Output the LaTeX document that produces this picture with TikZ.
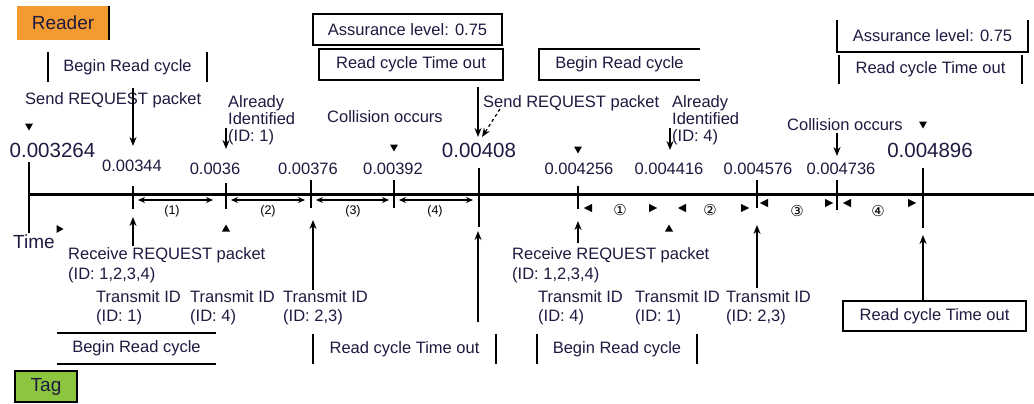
\documentclass[tikz,border=0pt]{standalone}
\usepackage{fontspec}
\setmainfont{Liberation Sans}
\newfontfamily\symfont{DejaVu Sans}
\usetikzlibrary{arrows.meta}
\definecolor{readerorange}{HTML}{F39A30}
\definecolor{taggreen}{HTML}{8CC63F}
\definecolor{txt}{HTML}{1E1A40}
\begin{document}
\begin{tikzpicture}[x=1pt,y=-1pt,
  lbl/.style={font=\fontsize{16.5}{17}\selectfont, inner sep=0pt, text=txt},
  two/.style={lbl, align=left, font=\fontsize{16.5}{19.5}\selectfont},
  three/.style={lbl, align=left, font=\fontsize{16.5}{17}\selectfont},
  big/.style={font=\fontsize{20.5}{22}\selectfont, inner sep=0pt, text=txt},
  head/.style={font=\fontsize{19}{20}\selectfont, inner sep=0pt, text=txt},
  small/.style={font=\fontsize{12.5}{13}\selectfont, inner sep=0pt},
  circ/.style={font=\symfont\fontsize{15}{16}\selectfont, inner sep=0pt},
  ln/.style={line width=1.6pt},
  axisline/.style={line width=3pt},
  arr/.style={line width=1.6pt, -{Stealth[length=9pt,width=7pt]}},
  dasharr/.style={line width=1.2pt, dashed, -{Stealth[length=9pt,width=7pt]}},
  iv/.style={line width=1.2pt, {Stealth[length=7pt,width=6pt]}-{Stealth[length=7pt,width=6pt]}},
  ivh/.style={line width=0.1pt, draw=white, {Triangle[length=8pt,width=8pt,color=black,fill=black]}-{Triangle[length=8pt,width=8pt,color=black,fill=black]}},
  tagbox/.style={lbl, minimum height=30pt},
]
\useasboundingbox[fill=white] (0,0) rectangle (1034,404);

% Reader / Tag
\node[head, fill=readerorange, minimum width=92pt, minimum height=34pt] (reader) at (63,23) {Reader};
\draw[ln] (reader.north east) -- (reader.south east);
\node[head, fill=taggreen, draw=black, line width=1.6pt, minimum width=62pt, minimum height=31pt] (tag) at (46,386.5) {Tag};

% axis and ticks
\coordinate (a0) at (29,194);
\coordinate (aend) at (1034,194);
\draw[axisline] (a0) -- (aend);
\coordinate (tA1) at (29,162);   \coordinate (tA2) at (29,233);
\coordinate (t11) at (133,186);  \coordinate (t12) at (133,209);
\coordinate (t21) at (226,183);  \coordinate (t22) at (226,209);
\coordinate (t31) at (311,180);  \coordinate (t32) at (311,208);
\coordinate (t41) at (394,180);  \coordinate (t42) at (394,208);
\coordinate (t51) at (479,168);  \coordinate (t52) at (479,227);
\coordinate (t61) at (578,186);  \coordinate (t62) at (578,209);
\coordinate (t71) at (757,180);  \coordinate (t72) at (757,208);
\coordinate (t81) at (837,180);  \coordinate (t82) at (837,210);
\coordinate (t91) at (923,168);  \coordinate (t92) at (923,228);
\foreach \t in {tA,t1,t2,t3,t4,t5,t6,t7,t8,t9}{\draw[ln] (\t1) -- (\t2);}

% tick labels
\node[big] (v0) at (52.5,150) {0.003264};
\node[lbl] (v1) at (132,166) {0.00344};
\node[lbl] (v2) at (215,169) {0.0036};
\node[lbl] (v3) at (308,169) {0.00376};
\node[lbl] (v4) at (393,169) {0.00392};
\node[big] (v5) at (479,150) {0.00408};
\node[lbl] (v6) at (579,169) {0.004256};
\node[lbl] (v7) at (669,169) {0.004416};
\node[lbl] (v8) at (758,169) {0.004576};
\node[lbl] (v9) at (841,169) {0.004736};
\node[big] (v10) at (930,150) {0.004896};

% small markers
\foreach \x/\y in {29/127, 394/148, 578/150, 923/125}{
  \fill (\x-4,\y-3.5) -- (\x+4,\y-3.5) -- (\x,\y+3.5) -- cycle;}
\foreach \x/\y in {226/228, 669/228}{
  \fill (\x-4,\y+3.5) -- (\x+4,\y+3.5) -- (\x,\y-3.5) -- cycle;}
\fill (56.5,225) -- (56.5,233) -- (63.5,229) -- cycle;

% intervals left
\coordinate (i1a) at (138,200); \coordinate (i1b) at (213,200);
\coordinate (i2a) at (231,200); \coordinate (i2b) at (305,200);
\coordinate (i3a) at (316,200); \coordinate (i3b) at (389,200);
\coordinate (i4a) at (399,200); \coordinate (i4b) at (473,200);
\draw[iv] (i1a) -- (i1b); \draw[iv] (i2a) -- (i2b);
\draw[iv] (i3a) -- (i3b); \draw[iv] (i4a) -- (i4b);
\node[small] (l1) at (172,211) {(1)};
\node[small] (l2) at (268,211) {(2)};
\node[small] (l3) at (353,211) {(3)};
\node[small] (l4) at (435,211) {(4)};
% intervals right
\coordinate (j1a) at (584,208); \coordinate (j1b) at (657,208);
\coordinate (j2a) at (678,208); \coordinate (j2b) at (749,208);
\coordinate (j3a) at (760,203); \coordinate (j3b) at (833,203);
\coordinate (j4a) at (843,203); \coordinate (j4b) at (916,203);
\draw[ivh] (j1a) -- (j1b); \draw[ivh] (j2a) -- (j2b);
\draw[ivh] (j3a) -- (j3b); \draw[ivh] (j4a) -- (j4b);
\node[circ] (m1) at (620,210) {①};
\node[circ] (m2) at (710,210) {②};
\node[circ] (m3) at (797,211) {③};
\node[circ] (m4) at (878,211) {④};

% upper texts
\node[lbl, anchor=west] (send1) at (25,100) {Send REQUEST packet};
\node[three, anchor=west] (ai1) at (228,120) {Already\\Identified\\(ID: 1)};
\node[lbl, anchor=west] (col1) at (327,117) {Collision occurs};
\node[lbl, anchor=west] (send2) at (483,103) {Send REQUEST packet};
\node[three, anchor=west] (ai2) at (672,120) {Already\\Identified\\(ID: 4)};
\node[lbl, anchor=west] (col2) at (787,125) {Collision occurs};
\node[head, anchor=west] (time) at (13,242) {Time};

% top brackets/boxes
\node[tagbox, minimum width=159pt] (brc1) at (127.5,67) {Begin Read cycle};
\draw[ln] (brc1.north west) -- (brc1.south west);
\draw[ln] (brc1.north east) -- (brc1.south east);
\node[lbl, draw=black, line width=1.6pt, minimum width=189pt, minimum height=31pt] (asr1) at (407.5,29.5) {Assurance level: 0.75};
\node[lbl, draw=black, line width=1.6pt, minimum width=184pt, minimum height=31pt] (rto1) at (411,64.5) {Read cycle Time out};
\node[tagbox, minimum width=161pt, minimum height=31pt] (brc2) at (619.5,64.5) {Begin Read cycle};
\draw[ln] (brc2.north east) -- (brc2.north west) -- (brc2.south west) -- (brc2.south east);
\node[tagbox, minimum width=191pt, minimum height=32pt] (asr2) at (932.5,36) {Assurance level: 0.75};
\draw[ln] (asr2.north west) -- (asr2.south west) -- (asr2.south east) -- (asr2.north east);
\node[tagbox, minimum width=183pt, minimum height=29pt] (rto2) at (930.5,69.5) {Read cycle Time out};
\draw[ln] (rto2.north west) -- (rto2.south west);
\draw[ln] (rto2.north east) -- (rto2.south east);

% top arrows
\coordinate (d1) at (133,88);  \coordinate (e1) at (133,146);
\coordinate (d2) at (226,128); \coordinate (e2) at (226,149);
\coordinate (d3) at (478,87);  \coordinate (e3) at (478,137);
\coordinate (d4) at (500,109); \coordinate (e4) at (482,137);
\coordinate (d5) at (670,128); \coordinate (e5) at (670,150);
\coordinate (d6) at (837,133); \coordinate (e6) at (837,156);
\draw[arr] (d1) -- (e1);
\draw[arr] (d2) -- (e2);
\draw[arr] (d3) -- (e3);
\draw[dasharr] (d4) -- (e4);
\draw[arr] (d5) -- (e5);
\draw[arr] (d6) -- (e6);

% lower texts
\node[two, anchor=west] (rcv1) at (68,265) {Receive REQUEST packet\\(ID: 1,2,3,4)};
\node[two, anchor=west] (rcv2) at (512,265) {Receive REQUEST packet\\(ID: 1,2,3,4)};
\node[two, anchor=west, font=\fontsize{16.5}{19}\selectfont] (tx1) at (96,307.5) {Transmit ID\\(ID: 1)};
\node[two, anchor=west, font=\fontsize{16.5}{19}\selectfont] (tx2) at (190,307.5) {Transmit ID\\(ID: 4)};
\node[two, anchor=west, font=\fontsize{16.5}{19}\selectfont] (tx3) at (283,307.5) {Transmit ID\\(ID: 2,3)};
\node[two, anchor=west, font=\fontsize{16.5}{19}\selectfont] (tx4) at (538,307.5) {Transmit ID\\(ID: 4)};
\node[two, anchor=west, font=\fontsize{16.5}{19}\selectfont] (tx5) at (635,307.5) {Transmit ID\\(ID: 1)};
\node[two, anchor=west, font=\fontsize{16.5}{19}\selectfont] (tx6) at (726,307.5) {Transmit ID\\(ID: 2,3)};

% bottom brackets/boxes
\node[tagbox, minimum width=159pt, minimum height=31pt] (brc3) at (136.5,348.5) {Begin Read cycle};
\draw[ln] (brc3.north west) -- (brc3.north east);
\draw[ln] (brc3.south west) -- (brc3.south east);
\node[tagbox, minimum width=183pt] (rto3) at (404.5,349) {Read cycle Time out};
\draw[ln] (rto3.north west) -- (rto3.south west);
\draw[ln] (rto3.north east) -- (rto3.south east);
\node[tagbox, minimum width=160pt] (brc4) at (617,349) {Begin Read cycle};
\draw[ln] (brc4.north west) -- (brc4.south west);
\draw[ln] (brc4.north east) -- (brc4.south east);
\node[lbl, draw=black, line width=1.6pt, minimum width=183pt, minimum height=30pt] (rto4) at (934.5,316) {Read cycle Time out};

% bottom arrows
\coordinate (u1) at (133,246); \coordinate (w1) at (133,217);
\coordinate (u2) at (313,290); \coordinate (w2) at (313,220);
\coordinate (u3) at (478,322); \coordinate (w3) at (478,231);
\coordinate (u4) at (578,243); \coordinate (w4) at (578,221);
\coordinate (u5) at (757,288); \coordinate (w5) at (757,225);
\coordinate (w6) at (923,235);
\draw[arr] (u1) -- (w1);
\draw[arr] (u2) -- (w2);
\draw[arr] (u3) -- (w3);
\draw[arr] (u4) -- (w4);
\draw[arr] (u5) -- (w5);
\draw[arr] (rto4.north -| w6) -- (w6);
\end{tikzpicture}
\end{document}
